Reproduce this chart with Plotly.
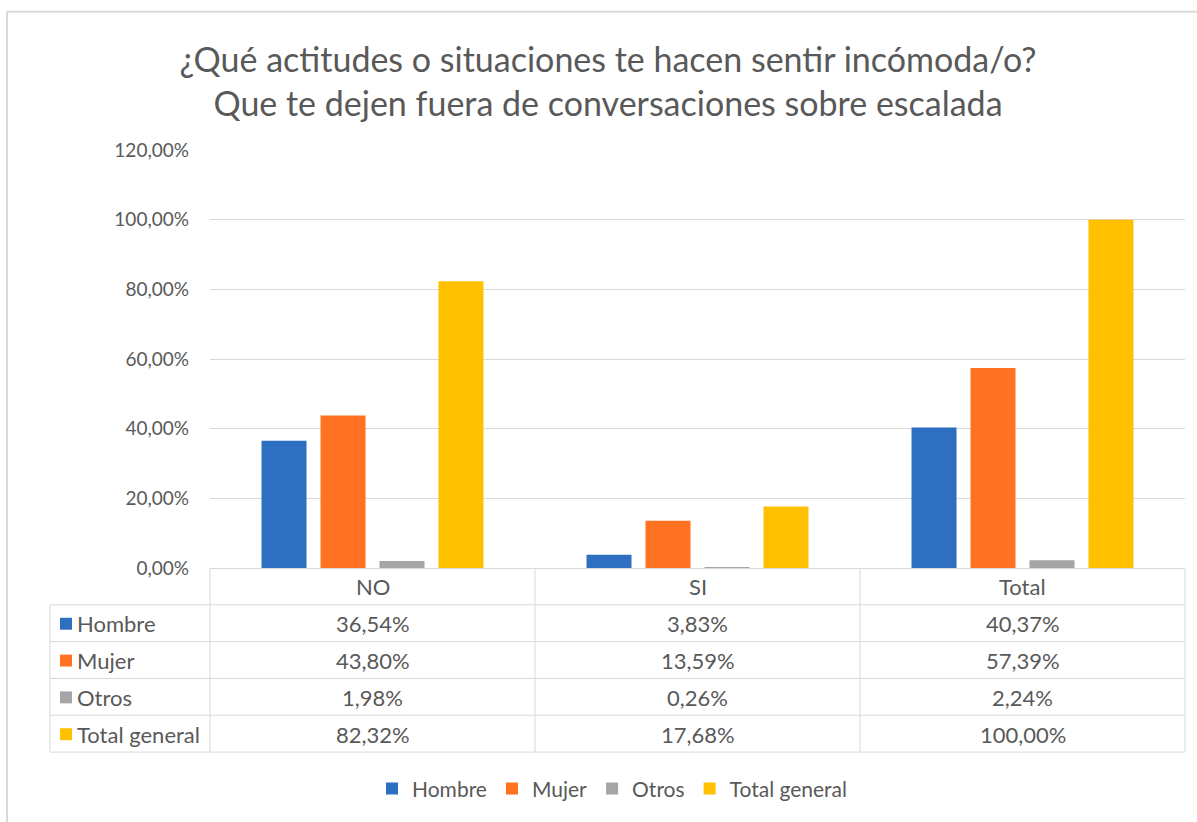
import plotly.graph_objects as go

# ---- data ----
categories = ["NO", "SI", "Total"]
series_names = ["Hombre", "Mujer", "Otros", "Total general"]
hombre = [36.54, 3.83, 40.37]
mujer = [43.80, 13.59, 57.39]
otros = [1.98, 0.26, 2.24]
total_general = [82.32, 17.68, 100.00]
series_values = [hombre, mujer, otros, total_general]
colors = ["#2F6FC1", "#FF7222", "#A5A5A5", "#FFC000"]
y_ticks = [0, 20, 40, 60, 80, 100, 120]

title_lines = ["¿Qué actitudes o situaciones te hacen sentir incómoda/o?",
               "Que te dejen fuera de conversaciones sobre escalada"]

W, H = 1197, 822
PL, PR, PT, PB = 210, 1185, 150, 570  # plot area in pixels
FONT = "Lato"
TXT = "#595959"
LINE = "#D9D9D9"


def px(x):
    return (x - PL) / (PR - PL)


def py(y):
    return (PB - y) / (PB - PT)


def fmt(v):
    return f"{v:.2f}".replace(".", ",") + "%"


fig = go.Figure()
for name, vals, col in zip(series_names, series_values, colors):
    fig.add_trace(go.Bar(name=name, x=categories, y=vals, marker=dict(color=col, line=dict(width=0))))

shapes = []
annotations = []

# table geometry (pixels)
row_lines = [607, 644, 681, 718, 755]
col_lines = [210, 535, 860, 1185]
left_x = 50

for y in row_lines:
    shapes.append(dict(type="line", xref="paper", yref="paper", x0=px(left_x), x1=px(1185),
                       y0=py(y), y1=py(y), line=dict(color=LINE, width=1)))
for x in col_lines:
    shapes.append(dict(type="line", xref="paper", yref="paper", x0=px(x), x1=px(x),
                       y0=py(570), y1=py(755), line=dict(color=LINE, width=1)))
shapes.append(dict(type="line", xref="paper", yref="paper", x0=px(left_x), x1=px(left_x),
                   y0=py(607), y1=py(755), line=dict(color=LINE, width=1)))

# outer frame (left & top edges visible)
shapes.append(dict(type="line", xref="paper", yref="paper", x0=px(7), x1=px(7),
                   y0=py(11), y1=py(830), line=dict(color=LINE, width=2)))
shapes.append(dict(type="line", xref="paper", yref="paper", x0=px(7), x1=px(1200),
                   y0=py(11), y1=py(11), line=dict(color=LINE, width=2)))

TFS = 22
# header row: category names
for c in categories:
    annotations.append(dict(xref="x", yref="paper", x=c, y=py(589), text=c, showarrow=False,
                            font=dict(family=FONT, size=TFS, color=TXT), xanchor="center", yanchor="middle"))

# series rows
row_centers = [626, 663, 700, 737]
for name, vals, col, yc in zip(series_names, series_values, colors, row_centers):
    shapes.append(dict(type="rect", xref="paper", yref="paper", x0=px(60), x1=px(72),
                       y0=py(yc - 6), y1=py(yc + 6), fillcolor=col, line=dict(width=0)))
    annotations.append(dict(xref="paper", yref="paper", x=px(75), y=py(yc), text=name, showarrow=False,
                            font=dict(family=FONT, size=TFS, color=TXT), xanchor="left", yanchor="middle"))
    for c, v in zip(categories, vals):
        annotations.append(dict(xref="x", yref="paper", x=c, y=py(yc), text=fmt(v), showarrow=False,
                                font=dict(family=FONT, size=TFS, color=TXT), xanchor="center", yanchor="middle"))

fig.update_layout(
    width=W, height=H,
    margin=dict(l=PL, r=W - PR, t=PT, b=H - PB, pad=0),
    paper_bgcolor="white", plot_bgcolor="white",
    separators=",.",
    barmode="group", bargap=0.274, bargroupgap=0.237,
    title=dict(text="<br>".join(title_lines), x=608 / W, xref="container", xanchor="center",
               y=1 - 72 / H, yref="container", yanchor="top",
               font=dict(family=FONT, size=34, color=TXT)),
    font=dict(family=FONT, color=TXT),
    xaxis=dict(showticklabels=False, showgrid=False, showline=True, linecolor=LINE, linewidth=1,
               ticks="", zeroline=False),
    yaxis=dict(range=[0, 120], tickmode="array", tickvals=y_ticks, ticktext=[fmt(t) for t in y_ticks],
               showgrid=True, gridcolor=LINE, gridwidth=1, zeroline=False, showline=False,
               tickfont=dict(family=FONT, size=19, color=TXT), ticklabelstandoff=20),
    legend=dict(orientation="h", xref="paper", yref="paper", x=px(612), y=py(792),
                xanchor="center", yanchor="middle", font=dict(family=FONT, size=21, color=TXT),
                bgcolor="rgba(0,0,0,0)"),
    shapes=shapes, annotations=annotations,
)

fig.write_html("out.html", config={"displayModeBar": False},
               post_script="document.body.style.margin='0px';")
